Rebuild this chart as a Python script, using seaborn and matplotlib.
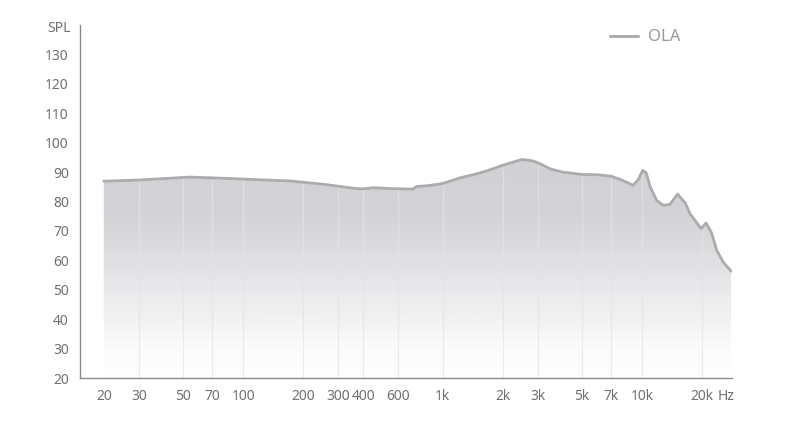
import numpy as np
import pandas as pd
import matplotlib
matplotlib.use("Agg")
import matplotlib.pyplot as plt
from matplotlib.colors import LinearSegmentedColormap
from matplotlib.lines import Line2D
import seaborn as sns

# ---- data ----
freq = [20, 30, 54, 80, 120, 171, 250, 300, 371, 400, 450, 550, 710, 741, 850,
        1000, 1220, 1500, 1700, 2000, 2500, 2800, 3000, 3500, 4000, 5000, 6000,
        7000, 8000, 9020, 9600, 10090, 10500, 11000, 11860, 12760, 13800, 15100,
        16500, 17400, 19800, 21000, 22400, 23700, 25500, 28000]
spl = [86.9, 87.3, 88.3, 87.9, 87.4, 87.0, 85.9, 85.2, 84.4, 84.3, 84.7, 84.4,
       84.2, 85.1, 85.4, 86.1, 88.0, 89.5, 90.6, 92.3, 94.3, 93.9, 93.2, 91.0,
       90.0, 89.2, 89.1, 88.6, 87.2, 85.5, 87.5, 90.6, 89.8, 85.0, 80.4, 78.7,
       79.0, 82.5, 79.5, 75.9, 70.8, 72.7, 69.2, 63.5, 59.5, 56.3]
series_name = "OLA"
ytick_vals = list(range(20, 140, 10))
xtick_vals = [20, 30, 50, 70, 100, 200, 300, 400, 600, 1000, 2000, 3000,
              5000, 7000, 10000, 20000, 26500]
xtick_labels = ["20", "30", "50", "70", "100", "200", "300", "400", "600",
                "1k", "2k", "3k", "5k", "7k", "10k", "20k", "Hz"]
grid_freqs = [30, 50, 70, 100, 200, 300, 400, 600, 1000, 2000, 3000,
              5000, 7000, 10000, 20000]

df = pd.DataFrame({"freq": freq, "spl": spl, "name": series_name})

sns.set_style("white")
plt.rcParams["font.family"] = ["Noto Sans", "DejaVu Sans"]

fig = plt.figure(figsize=(7.9, 4.22), dpi=100)
ax = fig.add_axes([80 / 790, 44 / 422, 652 / 790, 353 / 422])
ax.set_xscale("log")
ax.set_xlim(15.2, 28300)
ax.set_ylim(20, 140)

# gradient fill under the curve
poly = ax.fill_between(df["freq"], df["spl"], 20, facecolor="none",
                       edgecolor="none", zorder=1)
cmap = LinearSegmentedColormap.from_list(
    "grad",
    [(0.0, "#ffffff"), (0.12, "#fbfbfb"), (0.35, "#ebebed"),
     (0.55, "#dcdcdf"), (0.68, "#d4d4d8"), (1.0, "#d0d0d4")])
grad = np.linspace(0, 1, 256).reshape(-1, 1)
im = ax.imshow(grad, cmap=cmap, aspect="auto", origin="lower",
               extent=[15.2, 28300, 20, 100], zorder=1,
               interpolation="bilinear")
clip_path = poly.get_paths()[0]
im.set_clip_path(clip_path, transform=ax.transData)

# vertical grid lines, only inside the filled area
for gf in grid_freqs:
    ln = ax.axvline(gf, color="#e4e4e6", lw=0.9, alpha=0.7, zorder=2)
    ln.set_clip_path(clip_path, transform=ax.transData)

sns.lineplot(data=df, x="freq", y="spl", ax=ax, color="#acacac", lw=2.0,
             legend=False, zorder=3)
ax.set_xlim(15.2, 28300)
ax.set_ylim(20, 140)

# axes styling
for s in ["top", "right"]:
    ax.spines[s].set_visible(False)
for s in ["left", "bottom"]:
    ax.spines[s].set_color("#8a8a8a")
    ax.spines[s].set_linewidth(1.0)

ax.set_yticks(ytick_vals)
ax.set_yticklabels([str(v) for v in ytick_vals])
ax.set_xticks(xtick_vals)
ax.set_xticklabels(xtick_labels)
ax.xaxis.set_minor_locator(matplotlib.ticker.NullLocator())
ax.tick_params(axis="y", direction="in", length=7, width=0.8,
               color="#dddddd", labelcolor="#707070", labelsize=10, pad=8)
ax.tick_params(axis="x", length=0, labelcolor="#707070", labelsize=10, pad=8)
ax.set_xlabel("")
ax.set_ylabel("")
ax.annotate("SPL", xy=(0, 1), xycoords="axes fraction", xytext=(-9, -4),
            textcoords="offset pixels", ha="right", va="center",
            color="#707070", fontsize=10)

# legend
handle = Line2D([0], [0], color="#acacac", lw=2.2)
leg = ax.legend([handle], [series_name], loc="upper left",
                bbox_to_anchor=(0.79, 1.03), frameon=False, fontsize=12,
                handlelength=1.7, handletextpad=0.6)
for t in leg.get_texts():
    t.set_color("#999999")

fig.savefig("out.png", dpi=100, facecolor="white")
